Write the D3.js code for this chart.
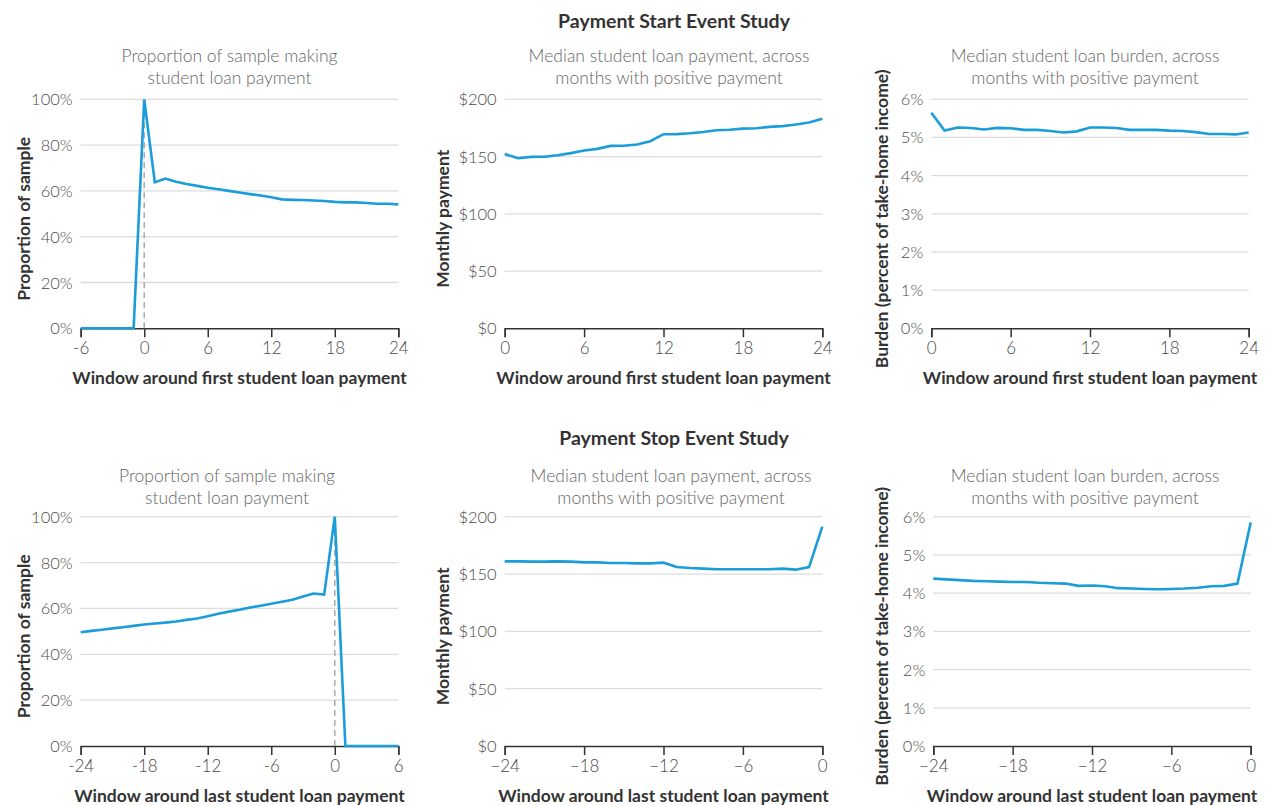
<!DOCTYPE html>
<html><head><meta charset="utf-8">
<script src="https://cdn.jsdelivr.net/npm/d3@7"></script>
<style>
body{margin:0;background:#fff;}
text{font-family:Lato, "Open Sans", sans-serif;}
</style></head>
<body><svg id="c" width="1269" height="805"></svg>
<script>
// ---- Data ----
const startMonthsProp = d3.range(-6, 25);
const startProportion = [0,0,0,0,0,0,100,63.8,65.4,64,63,62.2,61.4,60.7,60,59.3,58.6,58,57.2,56.3,56.1,56,55.8,55.6,55.2,55,55,54.7,54.4,54.4,54.1];
const startMonths = d3.range(0, 25);
const startPayment = [152.3,148.5,149.7,149.8,151.2,153,155.3,156.7,159.3,159.4,160.5,163.4,169.5,169.6,170.4,171.5,173,173.4,174.4,174.7,175.9,176.6,178,179.7,183.1];
const startBurden = [5.65,5.18,5.26,5.25,5.21,5.25,5.24,5.2,5.2,5.17,5.13,5.16,5.26,5.26,5.25,5.2,5.2,5.2,5.18,5.17,5.14,5.09,5.09,5.08,5.13];
const stopMonthsProp = d3.range(-24, 7);
const stopProportion = [49.6,50.2,50.7,51.3,51.8,52.4,53,53.4,53.8,54.3,55,55.6,56.6,57.7,58.6,59.4,60.4,61.2,62,62.9,63.8,65.2,66.5,66,100,0,0,0,0,0,0];
const stopMonths = d3.range(-24, 1);
const stopPayment = [161,161,160.8,160.8,161,160.8,160.2,160.2,159.6,159.6,159.3,159.3,159.9,156.1,155.2,154.7,154.1,154.1,154.1,154.1,154.1,154.7,153.8,156.1,191.3];
const stopBurden = [4.38,4.36,4.34,4.32,4.31,4.3,4.29,4.29,4.27,4.26,4.25,4.19,4.2,4.18,4.13,4.12,4.11,4.1,4.11,4.12,4.14,4.18,4.19,4.25,5.85];

const propTicks = [0,20,40,60,80,100];
const payTicks = [0,50,100,150,200];
const burdenTicks = [0,1,2,3,4,5,6];
const startPropXTicks = [-6,0,6,12,18,24];
const startXTicks = [0,6,12,18,24];
const stopPropXTicks = [-24,-18,-12,-6,0,6];
const stopXTicks = [-24,-18,-12,-6,0];

const titles = ["Payment Start Event Study","Payment Stop Event Study"];
const subProp = ["Proportion of sample making","student loan payment"];
const subPay = ["Median student loan payment, across","months with positive payment"];
const subBurden = ["Median student loan burden, across","months with positive payment"];
const xLabelStart = "Window around first student loan payment";
const xLabelStop = "Window around last student loan payment";
const yLabels = ["Proportion of sample","Monthly payment","Burden (percent of take-home income)"];

// ---- Drawing ----
const svg = d3.select("#c");
const BLUE = "#1a9dd9";

svg.append("text").attr("x",674).attr("y",20).attr("text-anchor","middle").attr("dominant-baseline","central")
  .attr("font-size",19.5).attr("font-weight","bold").attr("fill","#333").text(titles[0]);
svg.append("text").attr("x",674).attr("y",437).attr("text-anchor","middle").attr("dominant-baseline","central")
  .attr("font-size",19.5).attr("font-weight","bold").attr("fill","#333").text(titles[1]);

function panel(o){
  const g = svg.append("g");
  const x = d3.scaleLinear().domain(o.xDomain).range([o.x0,o.x1]);
  const y = d3.scaleLinear().domain(o.yDomain).range([o.y0,o.y1]);
  g.selectAll("line.grid").data(o.yTicks.filter(t=>t!==o.yDomain[0])).enter().append("line")
    .attr("x1",o.x0).attr("x2",o.x1).attr("y1",d=>y(d)).attr("y2",d=>y(d))
    .attr("stroke","#dcdcdc").attr("stroke-width",1.3);
  g.selectAll("text.yt").data(o.yTicks).enter().append("text")
    .attr("x",o.x0-8).attr("y",d=>y(d)).attr("text-anchor","end").attr("dominant-baseline","central")
    .attr("font-size",16.5).attr("font-weight",300).attr("fill","#4a4a4a").text(o.yFmt);
  const ax = g.append("g").attr("transform",`translate(0,${o.y0})`)
    .call(d3.axisBottom(x).tickValues(o.xTicks).tickSize(9).tickPadding(5).tickFormat(o.xFmt));
  ax.select(".domain").attr("stroke","#333").attr("stroke-width",1.5);
  ax.selectAll(".tick line").attr("stroke","#333").attr("stroke-width",1.5);
  ax.selectAll(".tick text").attr("font-size",17).attr("font-weight",300).attr("fill","#4a4a4a")
    .attr("font-family","Lato, sans-serif");
  if(o.vline!==undefined){
    g.append("line").attr("x1",x(o.vline)).attr("x2",x(o.vline)).attr("y1",y(o.yDomain[0])).attr("y2",y(o.yDomain[1]))
      .attr("stroke","#aaa").attr("stroke-width",1.5).attr("stroke-dasharray","6,4");
  }
  g.append("path").datum(o.xs.map((m,i)=>[m,o.ys[i]]))
    .attr("d",d3.line().x(d=>x(d[0])).y(d=>y(d[1])))
    .attr("fill","none").attr("stroke",BLUE).attr("stroke-width",2.6).attr("stroke-linejoin","miter");
  o.sub.forEach((s,i)=>g.append("text").attr("x",o.subX).attr("y",o.subY+i*22).attr("text-anchor","middle")
    .attr("dominant-baseline","central").attr("font-size",17.5).attr("font-weight",300).attr("fill","#666").text(s));
  g.append("text").attr("x",(o.x0+o.x1)/2).attr("y",o.xlY).attr("text-anchor","middle").attr("dominant-baseline","central")
    .attr("font-size",17.5).attr("font-weight","bold").attr("fill","#333").text(o.xLabel);
  const cy = (o.y0+o.y1)/2+5;
  g.append("text").attr("transform",`translate(${o.ylX},${cy}) rotate(-90)`).attr("text-anchor","middle")
    .attr("dominant-baseline","central").attr("font-size",17.5).attr("font-weight","bold").attr("fill","#333").text(o.yLabel);
}
const pct = d=>d+"%";
const dol = d=>"$"+d;
const hy = d=>String(d);
const mn = d=>d<0?"\u2212"+(-d):String(d);

const T0=99.3, T1=328.3, B0=516.7, B1=746;
panel({x0:80.7,x1:398.3,y0:T1,y1:T0,xDomain:[-6,24],yDomain:[0,100],xs:startMonthsProp,ys:startProportion,
  yTicks:propTicks,xTicks:startPropXTicks,yFmt:pct,xFmt:hy,vline:0,sub:subProp,subX:229.5,subY:55,
  xLabel:xLabelStart,xlY:377,yLabel:yLabels[0],ylX:23});
panel({x0:504.7,x1:822.3,y0:T1,y1:T0,xDomain:[0,24],yDomain:[0,200],xs:startMonths,ys:startPayment,
  yTicks:payTicks,xTicks:startXTicks,yFmt:dol,xFmt:hy,sub:subPay,subX:669,subY:55,
  xLabel:xLabelStart,xlY:377,yLabel:yLabels[1],ylX:442});
panel({x0:931.3,x1:1248.7,y0:T1,y1:T0,xDomain:[0,24],yDomain:[0,6],xs:startMonths,ys:startBurden,
  yTicks:burdenTicks,xTicks:startXTicks,yFmt:pct,xFmt:hy,sub:subBurden,subX:1085,subY:55,
  xLabel:xLabelStart,xlY:377,yLabel:yLabels[2],ylX:881});
panel({x0:80.7,x1:398.3,y0:B1,y1:B0,xDomain:[-24,6],yDomain:[0,100],xs:stopMonthsProp,ys:stopProportion,
  yTicks:propTicks,xTicks:stopPropXTicks,yFmt:pct,xFmt:hy,vline:0,sub:subProp,subX:227,subY:475.5,
  xLabel:xLabelStop,xlY:795,yLabel:yLabels[0],ylX:23});
panel({x0:504.7,x1:822.3,y0:B1,y1:B0,xDomain:[-24,0],yDomain:[0,200],xs:stopMonths,ys:stopPayment,
  yTicks:payTicks,xTicks:stopXTicks,yFmt:dol,xFmt:mn,sub:subPay,subX:671,subY:475.5,
  xLabel:xLabelStop,xlY:795,yLabel:yLabels[1],ylX:442});
panel({x0:933.3,x1:1250.7,y0:B1,y1:B0,xDomain:[-24,0],yDomain:[0,6],xs:stopMonths,ys:stopBurden,
  yTicks:burdenTicks,xTicks:stopXTicks,yFmt:pct,xFmt:mn,sub:subBurden,subX:1085,subY:475.5,
  xLabel:xLabelStop,xlY:795,yLabel:yLabels[2],ylX:881});
</script></body></html>
